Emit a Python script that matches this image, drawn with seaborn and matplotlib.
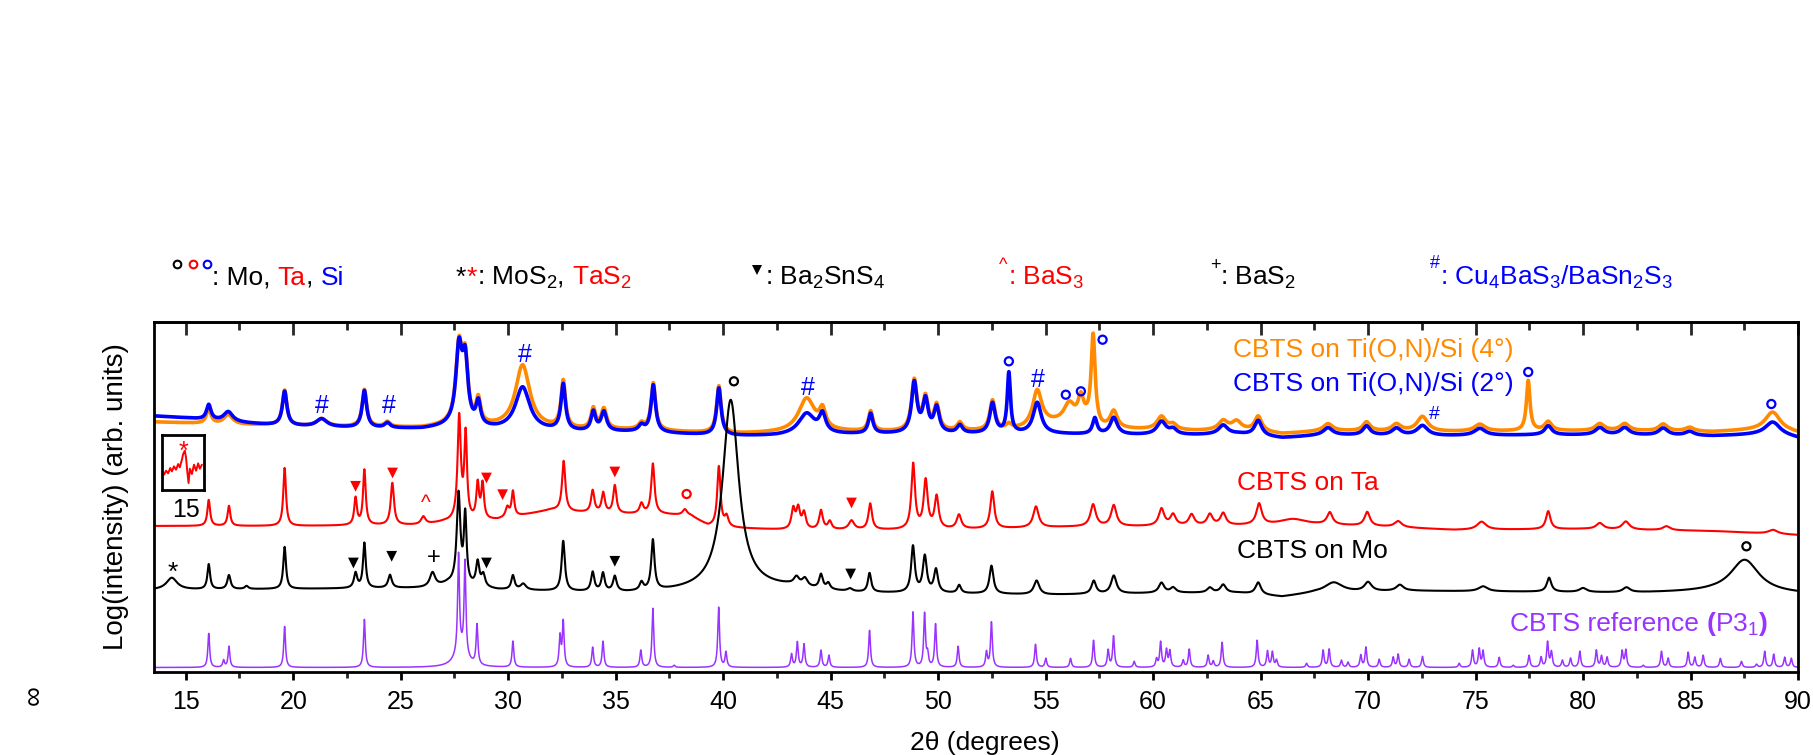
import numpy as np
import matplotlib
matplotlib.use("Agg")
import matplotlib.pyplot as plt
from matplotlib.ticker import MultipleLocator
import seaborn as sns

W, H, DPI = 1813, 755, 100

# ---------------- data ----------------
# 2-theta grid (degrees) on which the patterns are rendered
two_theta = np.round(np.arange(13.5, 90.0 + 1e-9, 0.01), 2)

# Each pattern: background knots (2theta, level) and peaks (centre, height, FWHM),
# all in stacked log-intensity display units.
ref_bg = [(13.5, 4.5), (90.0, 4.5)]
ref_peaks = [
    (16.07, 34, 0.1), (16.76, 7, 0.1), (17.01, 21, 0.1), (19.60, 41, 0.1), (23.31, 48, 0.1),
    (27.69, 98, 0.1), (27.99, 93, 0.1), (27.80, 16, 0.7), (28.55, 40, 0.1), (30.22, 26, 0.1),
    (32.41, 30, 0.1), (32.56, 45, 0.1), (33.93, 20, 0.1), (34.41, 26, 0.1), (36.17, 17, 0.1),
    (36.73, 59, 0.1), (37.72, 2, 0.1), (39.79, 60, 0.1), (40.13, 15, 0.1), (43.18, 13, 0.1),
    (43.45, 25, 0.1), (43.76, 23, 0.1), (44.55, 17, 0.1), (44.92, 12, 0.1), (46.81, 37, 0.1),
    (48.83, 55, 0.1), (49.37, 53, 0.1), (49.51, 12, 0.1), (49.88, 43, 0.1), (50.93, 21, 0.1),
    (52.25, 15, 0.1), (52.48, 45, 0.1), (54.53, 23, 0.1), (55.01, 9, 0.1), (56.16, 9, 0.1),
    (57.23, 27, 0.1), (57.91, 17, 0.1), (58.16, 31, 0.1), (59.12, 6, 0.1), (60.16, 8, 0.1),
    (60.35, 25, 0.1), (60.62, 17, 0.1), (60.78, 16, 0.1), (61.40, 7, 0.1), (61.68, 18, 0.1),
    (62.56, 12, 0.1), (62.80, 6, 0.1), (63.21, 25, 0.1), (64.84, 27, 0.1), (65.32, 16, 0.1),
    (65.55, 15, 0.1), (65.74, 7, 0.1), (67.14, 4, 0.1), (67.91, 17, 0.1), (68.19, 18, 0.1),
    (68.76, 7, 0.1), (69.07, 5, 0.1), (69.66, 12, 0.1), (69.90, 20, 0.1), (70.52, 8, 0.1),
    (71.17, 10, 0.1), (71.40, 13, 0.1), (71.91, 8, 0.1), (72.53, 11, 0.1), (74.24, 4, 0.1),
    (74.86, 17, 0.1), (75.17, 18, 0.1), (75.35, 16, 0.1), (76.10, 10, 0.1), (76.75, 2, 0.1),
    (77.49, 12, 0.1), (78.05, 10, 0.1), (78.35, 25, 0.1), (78.53, 15, 0.1), (79.04, 7, 0.1),
    (79.42, 9, 0.1), (79.85, 16, 0.1), (80.62, 17, 0.1), (80.86, 11, 0.1), (81.12, 10, 0.1),
    (81.82, 16, 0.1), (81.99, 17, 0.1), (82.80, 2, 0.1), (83.65, 16, 0.1), (83.96, 9, 0.1),
    (84.89, 15, 0.1), (85.20, 10, 0.1), (85.59, 12, 0.1), (86.39, 9, 0.1), (87.37, 6, 0.1),
    (88.07, 3, 0.1), (88.45, 16, 0.1), (88.87, 13, 0.1), (89.38, 10, 0.1), (89.69, 9, 0.1),
]

mo_bg = [(13.5, 82), (20, 83), (26.5, 84), (27.2, 88), (29.5, 82), (33, 80), (35.5, 79),
         (37.5, 80), (43, 84), (44, 82), (46, 79), (52, 78), (55, 77), (58, 78), (61, 79),
         (64, 79), (66, 75), (67.5, 79), (72, 81), (78, 80), (82, 79), (86, 80), (90, 78)]
mo_peaks = [
    (14.35, 12, 0.6), (16.07, 25, 0.15), (17.01, 14, 0.18), (17.83, 3, 0.2), (19.60, 42, 0.15),
    (22.90, 15, 0.18), (23.31, 45, 0.15), (24.50, 13, 0.2), (26.48, 15, 0.3), (27.69, 90, 0.2),
    (28.00, 68, 0.15), (28.58, 24, 0.18), (28.84, 12, 0.2), (30.22, 14, 0.18), (30.70, 6, 0.3),
    (32.56, 50, 0.18), (33.93, 19, 0.18), (34.41, 18, 0.18), (34.96, 15, 0.2), (36.20, 8, 0.2),
    (36.73, 50, 0.18), (40.35, 190, 0.9), (43.41, 8, 0.3), (43.80, 8, 0.3), (44.55, 14, 0.2),
    (44.89, 6, 0.2), (45.90, 3, 0.3), (46.81, 19, 0.18), (48.83, 46, 0.2), (49.38, 36, 0.22),
    (49.90, 23, 0.22), (50.98, 8, 0.2), (52.48, 28, 0.22), (54.58, 14, 0.3), (57.24, 13, 0.25),
    (58.17, 18, 0.3), (60.39, 10, 0.3), (60.93, 5, 0.3), (62.64, 5, 0.3), (63.26, 8, 0.3),
    (64.89, 12, 0.3), (68.40, 10, 1.0), (70.00, 9, 0.4), (71.48, 6, 0.4), (75.35, 5, 0.5),
    (78.42, 14, 0.25), (80.00, 4, 0.4), (82.02, 5, 0.4), (87.52, 33, 1.6),
]

ta_bg = [(13.5, 146), (20, 146), (26, 147), (27, 150), (29.5, 152), (31, 158), (32, 162),
         (33, 160), (35, 158), (37, 158), (38.5, 156), (39.3, 146), (40.5, 144), (43, 142),
         (48, 142), (52, 143), (56, 145), (62, 146), (68, 147), (71, 145), (74, 142),
         (80, 143), (86, 141), (90, 137)]
ta_peaks = [
    (16.07, 26, 0.15), (17.01, 20, 0.15), (19.60, 58, 0.15), (22.90, 27, 0.15), (23.31, 55, 0.15),
    (24.61, 42, 0.18), (26.05, 8, 0.25), (27.72, 103, 0.18), (28.02, 84, 0.15), (28.58, 35, 0.15),
    (28.81, 35, 0.15), (29.96, 10, 0.2), (30.22, 25, 0.15), (32.58, 50, 0.18), (33.93, 22, 0.18),
    (34.42, 20, 0.18), (34.96, 28, 0.18), (36.20, 10, 0.2), (36.73, 50, 0.18), (38.22, 6, 0.25),
    (39.80, 60, 0.18), (40.16, 10, 0.2), (43.26, 20, 0.2), (43.49, 20, 0.2), (43.76, 16, 0.2),
    (44.55, 19, 0.2), (44.96, 8, 0.2), (45.97, 9, 0.3), (46.84, 26, 0.2), (48.84, 65, 0.2),
    (49.42, 48, 0.22), (49.93, 32, 0.22), (50.97, 14, 0.25), (52.52, 37, 0.22), (54.55, 21, 0.3),
    (57.21, 22, 0.3), (58.17, 21, 0.3), (60.39, 17, 0.3), (60.93, 11, 0.3), (61.79, 11, 0.3),
    (62.64, 11, 0.3), (63.26, 12, 0.3), (64.93, 21, 0.3), (66.50, 6, 1.5), (68.22, 12, 0.3),
    (69.96, 14, 0.3), (71.40, 6, 0.4), (75.28, 8, 0.5), (78.38, 18, 0.25), (80.78, 6, 0.4),
    (81.99, 8, 0.4), (83.88, 4, 0.4), (88.84, 4, 0.5),
]

si2_bg = [(13.5, 256), (15, 254), (17, 250), (19, 247), (21, 245), (23, 244), (26, 243),
          (27.2, 245), (29.5, 242), (33, 240), (36, 240), (38, 238), (40.5, 236), (42.5, 236),
          (44, 237), (48, 238), (55, 238), (58, 237), (62, 237), (64, 238), (66, 234), (68, 237),
          (73, 236), (78, 237), (82, 237), (86, 236), (89, 238), (90, 234)]
si2_peaks = [
    (16.07, 15, 0.25), (16.98, 10, 0.5), (19.60, 34, 0.25), (21.32, 8, 0.6), (23.31, 37, 0.25),
    (24.38, 5, 0.3), (27.71, 76, 0.35), (28.00, 60, 0.3), (28.61, 23, 0.25), (30.67, 43, 0.8),
    (32.56, 46, 0.25), (33.96, 19, 0.25), (34.45, 19, 0.3), (36.20, 6, 0.3), (36.75, 47, 0.25),
    (39.80, 47, 0.25), (43.88, 21, 0.9), (44.62, 18, 0.35), (46.86, 20, 0.25), (48.89, 50, 0.3),
    (49.41, 32, 0.3), (49.93, 25, 0.3), (51.01, 8, 0.3), (52.53, 30, 0.3), (53.29, 60, 0.18),
    (54.61, 31, 0.45), (57.29, 16, 0.25), (58.17, 17, 0.4), (60.39, 13, 0.5), (60.93, 5, 0.4),
    (63.26, 9, 0.5), (64.89, 15, 0.4), (68.14, 7, 0.5), (69.93, 9, 0.4), (71.32, 7, 0.5),
    (72.53, 10, 0.6), (75.20, 7, 0.6), (78.38, 9, 0.4), (80.78, 7, 0.5), (81.94, 7, 0.5),
    (83.73, 7, 0.5), (84.96, 4, 0.5), (88.81, 12, 0.8),
]

si4_bg = [(13.5, 250), (15, 249), (17, 247), (19, 247), (21, 245), (23, 245), (26, 244),
          (27.2, 246), (29.5, 244), (33, 242), (36, 242), (38, 240), (40.5, 238), (42.5, 239),
          (44, 240), (48, 240), (53, 241), (54, 243), (55, 248), (56.9, 250), (57.6, 243),
          (60, 242), (62, 241), (64, 242), (66, 238), (68, 241), (73, 240), (78, 241),
          (82, 241), (86, 240), (89, 243), (90, 239)]
si4_peaks = [
    (16.07, 15, 0.25), (16.98, 10, 0.5), (19.60, 35, 0.25), (21.32, 8, 0.6), (23.31, 37, 0.25),
    (24.38, 5, 0.3), (27.71, 76, 0.35), (28.00, 60, 0.3), (28.61, 24, 0.25), (30.67, 63, 0.8),
    (32.56, 47, 0.25), (33.96, 20, 0.25), (34.45, 20, 0.3), (36.20, 6, 0.3), (36.75, 47, 0.25),
    (39.80, 47, 0.25), (43.88, 33, 0.9), (44.62, 18, 0.35), (46.86, 20, 0.25), (48.89, 50, 0.3),
    (49.41, 32, 0.3), (49.93, 25, 0.3), (51.01, 8, 0.3), (52.53, 30, 0.3), (53.29, 5, 0.3),
    (54.61, 35, 0.5), (56.10, 18, 0.6), (56.64, 22, 0.3), (57.21, 88, 0.22), (58.17, 17, 0.4),
    (60.39, 13, 0.5), (60.93, 5, 0.4), (63.26, 9, 0.5), (63.88, 8, 0.5), (64.89, 15, 0.4),
    (68.14, 7, 0.5), (69.93, 9, 0.4), (71.32, 7, 0.5), (72.53, 15, 0.6), (75.20, 7, 0.6),
    (77.45, 50, 0.2), (78.38, 9, 0.4), (80.78, 7, 0.5), (81.94, 7, 0.5), (83.73, 7, 0.5),
    (84.96, 4, 0.5), (88.81, 17, 0.8),
]

# Inset: Ta sample around the TaS2 reflection near 15 degrees
inset_x = [14.48, 14.53, 14.58, 14.63, 14.67, 14.72, 14.77, 14.82, 14.86, 14.91, 14.94,
           14.98, 15.01, 15.04, 15.07, 15.10, 15.15, 15.20, 15.25, 15.30, 15.34, 15.39]
inset_y = [45, 57, 49, 65, 55, 70, 60, 77, 67, 90, 107, 117, 95, 53, 20, 63, 47, 75, 57,
           79, 63, 75]

# Phase markers
circle_x = [53.29, 55.94, 56.64, 57.65, 77.45, 88.76, 40.5, 87.6, 38.3]
circle_y = [310.7, 277.3, 280.7, 332.3, 300.0, 268.0, 290.7, 125.7, 178.0]
circle_c = ["b", "b", "b", "b", "b", "b", "k", "k", "r"]
tri_x = [22.9, 24.62, 28.99, 29.74, 34.96, 45.97, 22.8, 24.58, 28.99, 34.96, 45.93]
tri_y = [185.7, 199.0, 194.0, 177.3, 200.0, 169.0, 109.0, 115.7, 109.0, 110.7, 98.0]
tri_c = ["r"] * 6 + ["k"] * 5
hash_x = [21.32, 24.45, 30.78, 43.96, 54.66, 73.06]
hash_y = [268.5, 268.0, 319.0, 285.7, 294.0, 260.0]
hash_size = [18, 18, 18, 18, 18, 14]
glyph_marks = [("^", 26.17, 173.7, "r", 15), ("+", 26.55, 116.7, "k", 17),
               ("*", 14.38, 107.0, "k", 19)]

series_labels = ["CBTS on Ti(O,N)/Si (4°)", "CBTS on Ti(O,N)/Si (2°)", "CBTS on Ta",
                 "CBTS on Mo"]
label_x = [63.70, 63.70, 63.88, 63.88]
label_y = [314.7, 280.7, 181.7, 114.0]

# ---------------- style ----------------
ORANGE, BLUE, RED, BLACK, PURPLE = "#FF8A00", "#0000FF", "#FF0000", "#000000", "#9933FF"
CMAP = {"b": BLUE, "k": BLACK, "r": RED}
LABEL_FS = 19
LEGEND_FS = 19

sns.set_theme(style="white")
plt.rcParams["font.family"] = ["Liberation Sans", "DejaVu Sans"]
plt.rcParams["mathtext.default"] = "regular"
plt.rcParams["axes.linewidth"] = 2.0


def pattern(bg, peaks):
    bx, by = zip(*bg)
    y = np.interp(two_theta, bx, by)
    for c, h, w in peaks:
        y = y + h / (1.0 + ((two_theta - c) / (w / 2.0)) ** 2)
    return y


fig = plt.figure(figsize=(W / DPI, H / DPI), dpi=DPI)
ax = fig.add_axes([153.5 / W, 1 - 672 / H, (1798 - 153.5) / W, 350 / H])

curves = [
    (ref_bg, ref_peaks, PURPLE, 1.1),
    (ta_bg, ta_peaks, RED, 1.5),
    (si4_bg, si4_peaks, ORANGE, 2.6),
    (si2_bg, si2_peaks, BLUE, 2.6),
    (mo_bg, mo_peaks, BLACK, 1.5),
]
for bg, pk, col, lw in curves:
    sns.lineplot(x=two_theta, y=pattern(bg, pk), ax=ax, color=col, lw=lw,
                 estimator=None, sort=False)

ax.set_xlim(13.5, 90)
ax.set_ylim(0, 350)
ax.set_yticks([])
ax.set_ylabel("")
for s in ax.spines.values():
    s.set_linewidth(2.0)
    s.set_color("black")
ax.xaxis.set_major_locator(MultipleLocator(5))
ax.xaxis.set_minor_locator(MultipleLocator(2.5))
ax.tick_params(axis="x", which="major", direction="out", length=6, width=2,
               labelsize=18, pad=7, colors="black", bottom=True)
ax.tick_params(axis="x", which="minor", direction="out", length=4, width=2, bottom=True)

top = ax.secondary_xaxis("top")
top.xaxis.set_major_locator(MultipleLocator(5))
top.xaxis.set_minor_locator(MultipleLocator(2.5))
top.tick_params(axis="x", which="major", direction="in", length=9, width=2, labeltop=False)
top.tick_params(axis="x", which="minor", direction="in", length=6, width=2)
top.spines["top"].set_linewidth(2.0)

# phase markers
ax.scatter(circle_x, circle_y, s=34, facecolors="none",
           edgecolors=[CMAP[c] for c in circle_c], linewidths=1.6, zorder=5)
ax.scatter(tri_x, tri_y, s=60, marker="v", c=[CMAP[c] for c in tri_c],
           linewidths=0, zorder=5)

GLYPH_CENTER = {"#": 0.36, "+": 0.35, "^": 0.52, "*": 0.58}


def glyph(sym, x, y, color, size, axes=ax):
    axes.annotate(sym, xy=(x, y), xytext=(0, -GLYPH_CENTER[sym] * size),
                  textcoords="offset points", ha="center", va="baseline",
                  color=color, fontsize=size, annotation_clip=False)


for x, y, fs in zip(hash_x, hash_y, hash_size):
    glyph("#", x, y, BLUE, fs)
for sym, x, y, c, fs in glyph_marks:
    glyph(sym, x, y, CMAP[c], fs)

# curve labels
for txt, x, y, col in zip(series_labels, label_x, label_y, [ORANGE, BLUE, RED, BLACK]):
    ax.text(x, y, txt, color=col, fontsize=LABEL_FS, ha="left", va="baseline")


def chain(pieces, x0, base, axes=ax):
    """Write text pieces one after another along a common baseline (figure pixels)."""
    prev = None
    yb = H - base
    for txt, col, fs, dy, weight in pieces:
        if prev is None:
            t = axes.annotate(txt, xy=(x0, yb), xycoords="figure pixels",
                              xytext=(0, dy), textcoords="offset points",
                              ha="left", va="baseline", color=col, fontsize=fs,
                              fontweight=weight, annotation_clip=False)
        else:
            t = axes.annotate(txt, xy=(1, yb), xycoords=(prev, "figure pixels"),
                              xytext=(0, dy), textcoords="offset points",
                              ha="left", va="baseline", color=col, fontsize=fs,
                              fontweight=weight, annotation_clip=False)
        prev = t
    return prev


ref_x0 = 153.5 + (76.6 - 13.5) * 21.5
chain([("CBTS reference ", PURPLE, LABEL_FS, 0, "normal"), ("(", PURPLE, LABEL_FS, 0, "bold"),
       ("P3$_1$", PURPLE, LABEL_FS, 0, "normal"), (")", PURPLE, LABEL_FS, 0, "bold")],
      ref_x0, 672 - 40.7)

# phase legend row above the axes
LEG_BASE = 285.0
SUP_FS = 13
for cx, col in zip([176.8, 192.5, 206.8], [BLACK, RED, BLUE]):
    ax.plot([cx / W], [1 - (LEG_BASE - 21) / H], transform=fig.transFigure, marker="o",
            ms=5.5, mfc="none", mec=col, mew=1.5, clip_on=False, ls="none")
chain([(": Mo, ", BLACK, LEGEND_FS, 0, "normal"), ("Ta", RED, LEGEND_FS, 0, "normal"),
       (", ", BLACK, LEGEND_FS, 0, "normal"), ("Si", BLUE, LEGEND_FS, 0, "normal")],
      212, LEG_BASE)
chain([("*", BLACK, LEGEND_FS, 0, "normal"), ("*", RED, LEGEND_FS, 0, "normal"),
       (": MoS$_2$", BLACK, LEGEND_FS, 0, "normal"), (", ", BLACK, LEGEND_FS, 0, "normal"),
       ("TaS$_2$", RED, LEGEND_FS, 0, "normal")],
      456, LEG_BASE)
ax.plot([757 / W], [1 - (LEG_BASE - 15) / H], transform=fig.transFigure, marker="v", ms=7.5,
        color=BLACK, mew=0, clip_on=False, ls="none")
chain([(": Ba$_2$SnS$_4$", BLACK, LEGEND_FS, 0, "normal")], 765, LEG_BASE)
chain([("^", RED, SUP_FS, 11, "normal"), (": BaS$_3$", RED, LEGEND_FS, 0, "normal")],
      999, LEG_BASE)
chain([("+", BLACK, SUP_FS, 11, "normal"), (": BaS$_2$", BLACK, LEGEND_FS, 0, "normal")],
      1210, LEG_BASE)
chain([("#", BLUE, SUP_FS, 12, "normal"),
       (": Cu$_4$BaS$_3$/BaSn$_2$S$_3$", BLUE, LEGEND_FS, 0, "normal")], 1430, LEG_BASE)

# axis titles
fig.text(116 / W, 1 - 497 / H, "Log(intensity) (arb. units)", rotation=90, ha="center",
         va="center", fontsize=20, color="black")
fig.text(985 / W, 1 - 743 / H, "2θ (degrees)", ha="center", va="center", fontsize=19,
         color="black")
fig.text(35 / W, 1 - 695 / H, "∞", rotation=90, ha="center", va="center", fontsize=20,
         color="black")

# inset around 15 degrees
axins = fig.add_axes([162.3 / W, 1 - 489.7 / H, (204 - 162.3) / W, 55 / H])
axins.set_facecolor("white")
sns.lineplot(x=inset_x, y=inset_y, ax=axins, color=RED, lw=1.4, estimator=None, sort=False)
axins.set_xlim(14.44, 15.44)
axins.set_ylim(0, 165)
axins.set_yticks([])
axins.set_xticks([15])
axins.set_xticklabels(["15"])
axins.tick_params(axis="x", direction="out", length=3, width=2, labelsize=18, pad=3,
                  colors="black")
axins.set_xlabel("")
axins.set_ylabel("")
for s in axins.spines.values():
    s.set_linewidth(2.0)
    s.set_color("black")
glyph("*", 14.944, 135, RED, 18, axes=axins)

fig.savefig("out.png", dpi=DPI)
